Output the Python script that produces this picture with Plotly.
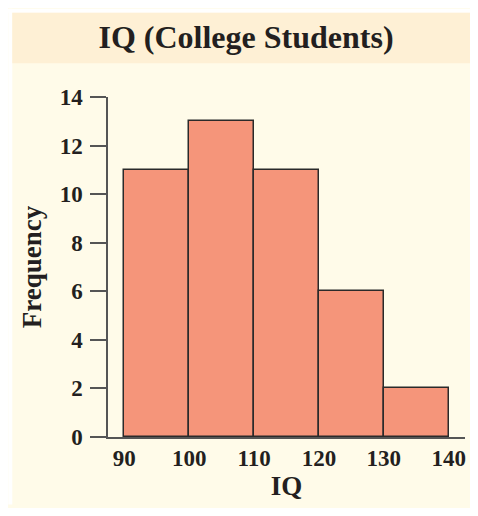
import plotly.graph_objects as go

bin_starts = [90, 100, 110, 120, 130]
bin_width = 10
counts = [11, 13, 11, 6, 2]
x_ticks = [90, 100, 110, 120, 130, 140]
y_ticks = [0, 2, 4, 6, 8, 10, 12, 14]

# page has an 8px body margin, so the figure is sized/offset accordingly
W, H = 470, 500
L, R, T, B = 100, 12, 89, 68
pw, ph = W - L - R, H - T - B

def px_x(v):
    return (v - L) / pw

def px_y(v):
    return 1 - (v - T) / ph

FONT = "Liberation Serif"
PANEL = "#FFFBE9"
BAND = "#FEF0D5"
AXIS = "#555555"
TXT = "#231f20"

fig = go.Figure()
fig.add_trace(go.Bar(
    x=[s + bin_width / 2 for s in bin_starts],
    y=counts,
    width=[bin_width] * len(counts),
    marker=dict(color="#F5957A", line=dict(color="#2a2a2a", width=1.5)),
    hoverinfo="skip",
))

shapes = [
    dict(type="rect", xref="paper", yref="paper", x0=px_x(0), x1=px_x(W), y0=px_y(0), y1=px_y(4),
         fillcolor="white", line=dict(width=0), layer="below"),
    dict(type="rect", xref="paper", yref="paper", x0=px_x(0), x1=px_x(4), y0=px_y(0), y1=px_y(H),
         fillcolor="white", line=dict(width=0), layer="below"),
    dict(type="rect", xref="paper", yref="paper", x0=px_x(4), x1=px_x(W), y0=px_y(4), y1=px_y(55),
         fillcolor=BAND, line=dict(width=0), layer="below"),
]

fig.update_layout(
    width=W, height=H,
    margin=dict(l=L, r=R, t=T, b=B),
    paper_bgcolor=PANEL,
    plot_bgcolor=PANEL,
    showlegend=False,
    bargap=0,
    shapes=shapes,
    font=dict(family=FONT, size=23, color=TXT, weight="bold"),
    title=dict(text="IQ (College Students)", x=238 / W, xref="container", xanchor="center",
               y=1 - 29 / H, yref="container", yanchor="middle",
               font=dict(family=FONT, size=32, color=TXT, weight="bold")),
    xaxis=dict(range=[87.5, 142.5], tickvals=x_ticks, ticks="", showline=True, linecolor=AXIS,
               linewidth=1.5, showgrid=False, zeroline=False, ticklabelstandoff=0,
               title=dict(text="IQ", font=dict(size=27), standoff=6)),
    yaxis=dict(range=[0, 14], tickvals=y_ticks, ticks="outside", ticklen=16, tickcolor=AXIS,
               tickwidth=1.5, showline=True, linecolor=AXIS, linewidth=1.5, showgrid=False,
               zeroline=False, ticklabelstandoff=3,
               title=dict(text="Frequency", font=dict(size=27), standoff=10)),
)

fig.write_html("out.html")
